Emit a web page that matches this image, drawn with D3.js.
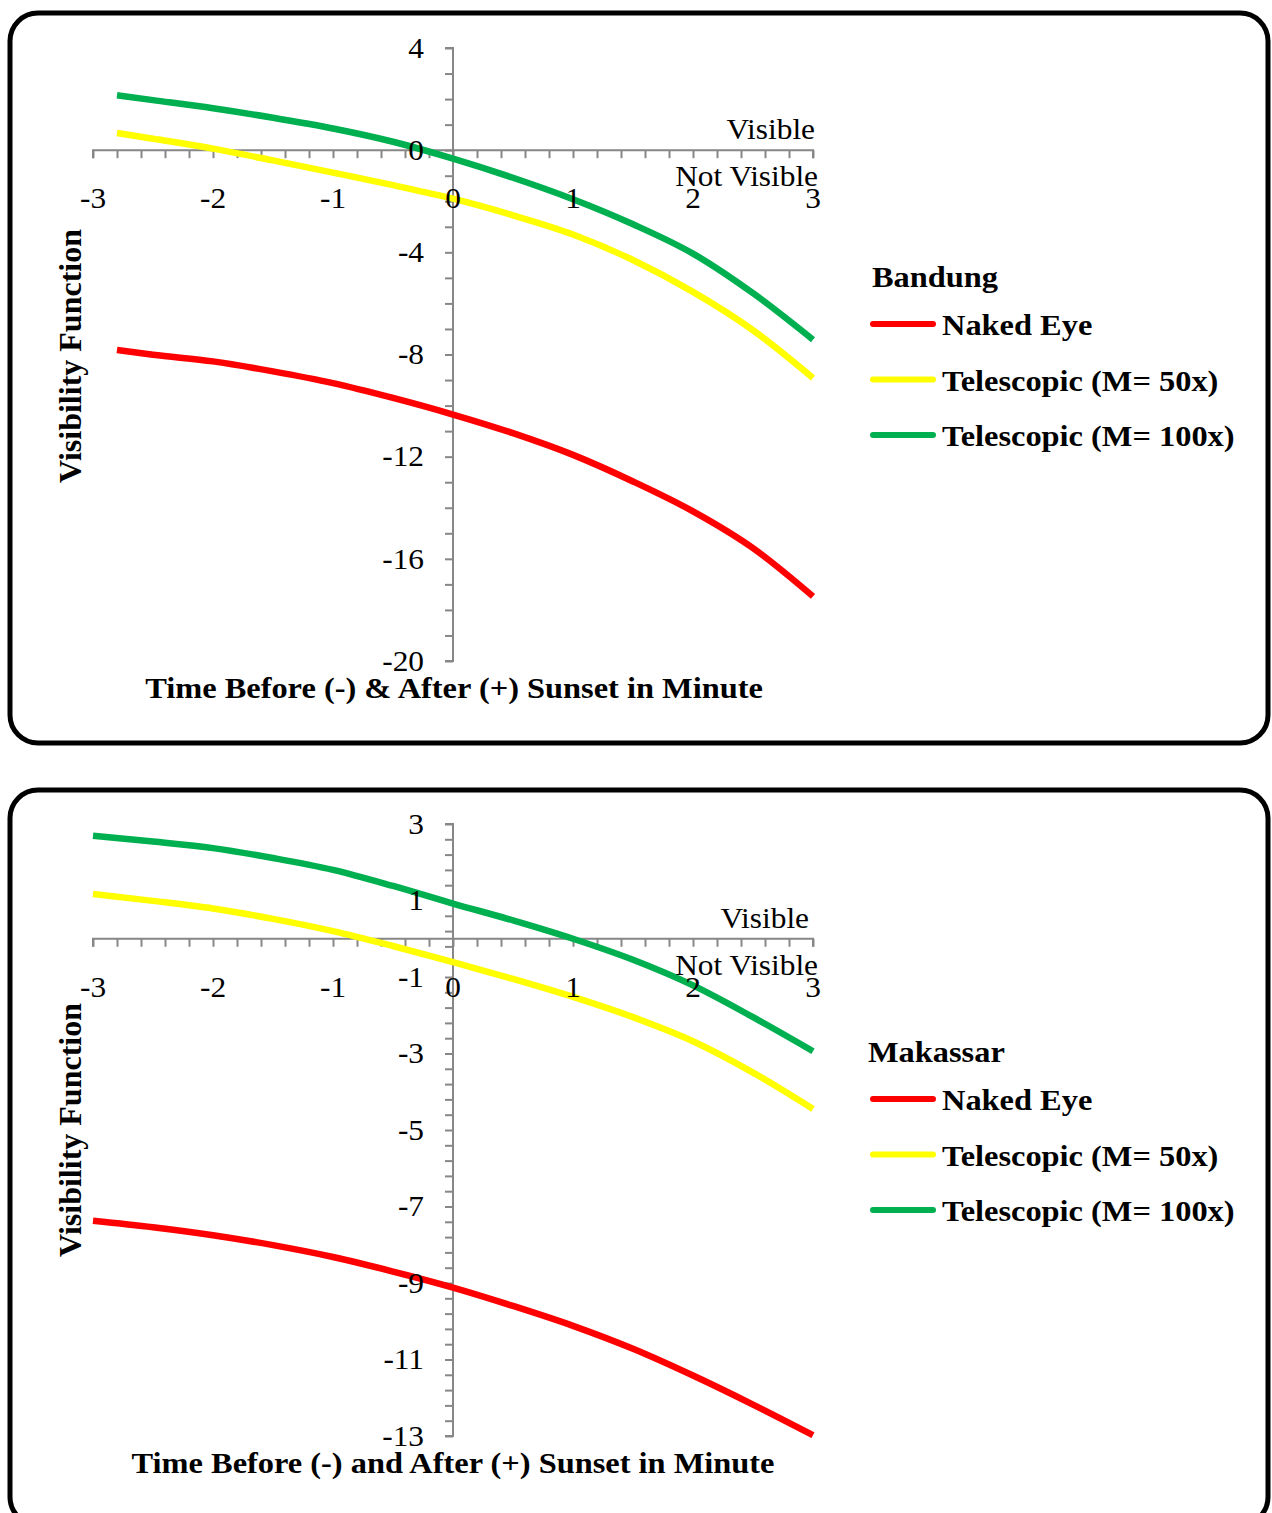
<!DOCTYPE html>
<html>
<head>
<meta charset="utf-8">
<script src="https://cdn.jsdelivr.net/npm/d3@7"></script>
<style>
  html, body { margin: 0; padding: 0; background: #fff; }
  svg { display: block; }
  text { font-family: "Liberation Serif", "Times New Roman", serif; fill: #000; }
</style>
</head>
<body>
<svg id="chart" width="1272" height="1513"></svg>
<script>
// ---------- DATA ----------
const seriesNames = ["Naked Eye", "Telescopic (M= 50x)", "Telescopic (M= 100x)"];
const seriesColors = ["#FF0000", "#FFFF00", "#00B050"];

const bandungTimes = [-2.8, -2.5, -2, -1.5, -1, -0.5, 0, 0.5, 1, 1.5, 2, 2.5, 3];
const bandungNaked = [-7.82, -8.01, -8.27, -8.66, -9.12, -9.7, -10.35, -11.08, -11.93, -12.97, -14.14, -15.58, -17.47];
const bandungTel50 = [0.67, 0.45, 0.06, -0.4, -0.88, -1.37, -1.9, -2.55, -3.3, -4.3, -5.55, -7.05, -8.92];
const bandungTel100 = [2.15, 1.96, 1.64, 1.27, 0.85, 0.33, -0.33, -1.08, -1.92, -2.9, -4.05, -5.6, -7.42];
const bandungYTicks = [4, 0, -4, -8, -12, -16, -20];

const makassarTimes = [-3, -2.5, -2, -1.5, -1, -0.5, 0, 0.5, 1, 1.5, 2, 2.5, 3];
const makassarNaked = [-7.37, -7.54, -7.75, -8.01, -8.32, -8.7, -9.12, -9.6, -10.12, -10.72, -11.42, -12.18, -12.98];
const makassarTel50 = [1.17, 0.99, 0.79, 0.52, 0.2, -0.19, -0.61, -1.05, -1.52, -2.05, -2.68, -3.5, -4.45];
const makassarTel100 = [2.69, 2.54, 2.37, 2.11, 1.8, 1.38, 0.92, 0.48, 0.0, -0.55, -1.22, -2.05, -2.94];
const makassarYTicks = [3, 1, -1, -3, -5, -7, -9, -11, -13];

const xTickLabels = [-3, -2, -1, 0, 1, 2, 3];

// ---------- DRAW ----------
const svg = d3.select("#chart");
const axisColor = "#878787";

function addText(g, x, y, str, opts) {
  const sx = opts.sx || 1;
  const rot = opts.rotate ? ` rotate(${opts.rotate})` : "";
  const t = g.append("text")
    .attr("transform", `translate(${x},${y})${rot} scale(${sx},1)`)
    .attr("text-anchor", opts.anchor || "start")
    .attr("font-size", opts.size)
    .text(str);
  if (opts.bold) t.attr("font-weight", "bold");
  if (opts.dy) t.attr("dy", opts.dy);
  return t;
}

function fmt(d) { return d < 0 ? "-" + Math.abs(d) : String(d); }

function panel(cfg) {
  const g = svg.append("g");
  g.append("rect")
    .attr("x", 10).attr("y", cfg.boxTop)
    .attr("width", 1258).attr("height", cfg.boxH)
    .attr("rx", 28).attr("ry", 28)
    .attr("fill", "none").attr("stroke", "#000").attr("stroke-width", 5);

  const x = d3.scaleLinear().domain([-3, 3]).range([93, 813]);
  const y = d3.scaleLinear().domain(cfg.yDomain).range(cfg.yRange);

  const yMinor = d3.range(cfg.yDomain[0], cfg.yDomain[1] + 1e-9, cfg.yMinor);
  const ya = g.append("g").attr("transform", `translate(${x(0)},0)`)
    .call(d3.axisLeft(y).tickValues(yMinor).tickSize(8).tickFormat(""));
  ya.selectAll("path,line").attr("stroke", axisColor).attr("stroke-width", 2);
  ya.select("path.domain").attr("d", `M-8,${y(cfg.yDomain[1])}H0V${y(cfg.yDomain[0])}H-8`);

  const xMinor = d3.range(-3, 3 + 1e-9, 0.2);
  const xa = g.append("g").attr("transform", `translate(0,${y(0)})`)
    .call(d3.axisBottom(x).tickValues(xMinor).tickSize(8).tickFormat(""));
  xa.selectAll("path,line").attr("stroke", axisColor).attr("stroke-width", 2);
  xa.select("path.domain").attr("d", `M${x(-3)},8V0H${x(3)}V8`);

  const line = d3.line().x(d => x(d[0])).y(d => y(d[1])).curve(d3.curveMonotoneX);
  cfg.series.forEach((vals, i) => {
    g.append("path")
      .datum(cfg.times.map((t, k) => [t, vals[k]]))
      .attr("d", line)
      .attr("fill", "none")
      .attr("stroke", seriesColors[i])
      .attr("stroke-width", 6.5);
  });

  cfg.yTicks.forEach(d => addText(g, 424, y(d), fmt(d), { anchor: "end", size: 28.5, sx: 1.1, dy: "0.34em" }));
  xTickLabels.forEach(d => addText(g, x(d), y(0) + cfg.xLabOff, fmt(d), { anchor: "middle", size: 28.5, sx: 1.1 }));

  addText(g, cfg.visX, y(0) - 11, "Visible", { anchor: "end", size: 28.5, sx: 1.1 });
  addText(g, 818, y(0) + cfg.notVisOff, "Not Visible", { anchor: "end", size: 28.5, sx: 1.1 });

  addText(g, 81, cfg.yTitleY, "Visibility Function", { anchor: "middle", size: 32, bold: true, rotate: -90 });
  addText(g, cfg.xTitleX, cfg.xTitleBase, cfg.xTitle, { anchor: "middle", size: 30, sx: 1.08, bold: true });

  addText(g, cfg.legX, cfg.legTitleBase, cfg.city, { size: 30, sx: 1.08, bold: true });
  seriesNames.forEach((name, i) => {
    const ly = cfg.legY0 + i * cfg.legStep;
    g.append("line").attr("x1", 873).attr("x2", 933).attr("y1", ly).attr("y2", ly)
      .attr("stroke", seriesColors[i]).attr("stroke-width", 6).attr("stroke-linecap", "round");
    addText(g, 942, ly + 11, name, { size: 30, sx: 1.08, bold: true });
  });
}

panel({
  boxTop: 13, boxH: 730,
  yDomain: [-20, 4], yRange: [661, 48], yMinor: 1, yTicks: bandungYTicks,
  times: bandungTimes, series: [bandungNaked, bandungTel50, bandungTel100],
  xLabOff: 58, visX: 815, notVisOff: 36,
  yTitleY: 356, xTitle: "Time Before (-) & After (+) Sunset in Minute", xTitleX: 454, xTitleBase: 698,
  city: "Bandung", legX: 872, legTitleBase: 287, legY0: 324, legStep: 55.5
});

panel({
  boxTop: 790, boxH: 735,
  yDomain: [-13, 3], yRange: [1436, 824], yMinor: 0.4, yTicks: makassarYTicks,
  times: makassarTimes, series: [makassarNaked, makassarTel50, makassarTel100],
  xLabOff: 58, visX: 809, notVisOff: 36,
  yTitleY: 1130, xTitle: "Time Before (-) and After (+) Sunset in Minute", xTitleX: 453, xTitleBase: 1473,
  city: "Makassar", legX: 868, legTitleBase: 1062, legY0: 1099, legStep: 55.5
});
</script>
</body>
</html>
